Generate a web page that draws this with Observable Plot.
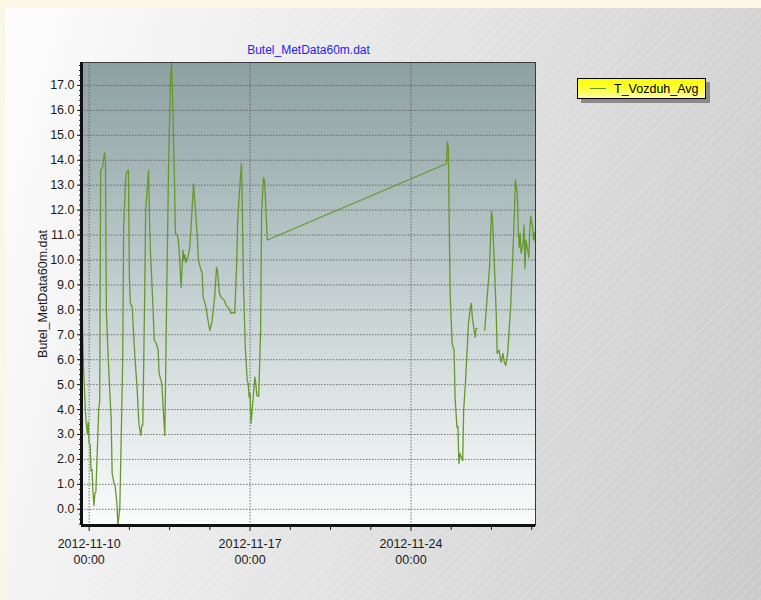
<!DOCTYPE html>
<html>
<head>
<meta charset="utf-8">
<script src="https://cdn.jsdelivr.net/npm/d3@7"></script>
<script src="https://cdn.jsdelivr.net/npm/@observablehq/plot@0.6"></script>
<style>
html, body { margin: 0; padding: 0; background: #FBF7E6; }
#page { position: relative; width: 761px; height: 600px; overflow: hidden; font-family: "Liberation Sans", Arial, sans-serif; }
#panel { position: absolute; left: 5px; top: 8px; right: 0; bottom: 0;
  background:
    repeating-linear-gradient(135deg, rgba(255,255,255,0) 0px, rgba(255,255,255,0) 5px, rgba(255,255,255,0.10) 5px, rgba(255,255,255,0.10) 7px),
    linear-gradient(105deg, #fdfdfd 0%, #eeeeee 30%, #dcdcdc 65%, #cbcbcb 100%); }
#chart { position: absolute; left: 0; top: 0; }
#legend { position: absolute; left: 577px; top: 78px; width: 129px; height: 21px; box-sizing: border-box;
  border: 1px solid #000; background: linear-gradient(180deg, #ffff00 0%, #ffff40 55%, #ffffa8 100%);
  box-shadow: 4px 4px 0 #8a8a8a; display: flex; align-items: center; font-size: 12.5px; color: #000; }
#legend .swatch { width: 16px; height: 0; border-top: 1px solid #65992e; margin-left: 12px; margin-right: 8px; }
</style>
</head>
<body>
<div id="page">
  <div id="panel"></div>
  <div id="chart"></div>
  <div id="legend"><span class="swatch"></span><span>T_Vozduh_Avg</span></div>
</div>
<script>
// ---- data ----
const chartTitle = "Butel_MetData60m.dat";
const axisLabel = "Butel_MetData60m.dat";
const seriesName = "T_Vozduh_Avg";
const startTime = "2012-11-10T00:00:00Z";   // hour offsets below are relative to this
const hoursSince = [
  -8,-6,-4,-3,-2,-1,0,1,2,3,
  4,5,6,7,10,11,12,14,15,16,
  17,18,20,23,24,26,27,29,30,32,
  33,35,36,38,39,41,42,43,45,46,
  48,50,51,52,54,55,56,57,58,59,
  61,62,63,64,66,68,70,72,73,75,
  76,77,79,81,83,85,86,87,89,90,
  92,93,94,96,97,98,99,100,101,103,
  105,106,108,109,111,113,114,116,118,119,
  120,122,124,126,128,131,133,134,136,138,
  139,141,143,145,147,148,150,152,154,155,
  157,159,160,161,163,165,166,167,168,169,
  171,173,174,175,177,179,180,182,183,184,
  186,373,374,375,376,377,379,381,382,384,
  385,386,387,389,390,391,393,396,398,399,
  400,403,404,405,409,413,415,418,420,421,
  423,425,426,428,429,430,432,433,434,435,
  437,438,440,442,444,445,447,448,449,450,
  451,453,454,455,456,457,459,460,461,463,
  464,465,466
];
const temps = [
  9.2,5.8,4.0,3.45,3.05,3.5,2.65,2.6,1.55,1.6,
  0.65,0.15,0.65,0.7,4.0,4.37,13.6,13.7,14.0,14.3,
  14.0,7.9,5.97,3.57,1.44,1.04,0.96,0.24,-0.65,0.08,
  1.96,5.97,11.3,13.2,13.5,13.6,9.3,8.26,8.1,7.3,
  5.97,4.9,4.1,3.4,2.97,3.37,3.37,6.0,8.66,12.0,
  13.07,13.6,11.6,10.3,8.66,6.78,6.66,6.4,5.45,5.17,
  4.97,4.25,2.97,8.66,14.0,17.3,17.92,16.7,13.3,11.07,
  11.0,10.8,10.4,8.9,9.7,10.4,10.0,10.2,9.9,10.1,
  10.5,11.07,12.4,13.05,12.0,10.9,10.0,9.7,9.46,8.5,
  8.4,8.1,7.6,7.18,7.46,8.5,9.7,9.58,8.66,8.5,
  8.46,8.38,8.18,8.1,7.98,7.86,7.9,7.86,9.86,11.47,
  12.8,13.87,11.87,9.18,6.5,5.17,5.05,4.5,4.65,3.45,
  4.37,5.3,5.05,4.57,4.53,7.18,11.87,13.3,13.2,12.5,
  10.8,13.86,14.73,14.5,11.2,8.5,6.65,6.38,4.5,3.3,
  3.33,1.84,2.24,2.04,1.96,3.97,5.17,7.46,8.1,8.26,
  7.7,6.9,7.26,7.26,null,7.18,8.26,9.7,11.95,11.7,
  9.86,7.86,6.25,6.38,6.1,5.9,6.25,5.97,5.85,5.77,
  6.25,6.9,8.1,9.86,11.87,13.2,12.67,11.2,10.5,11.07,
  10.27,10.67,11.4,9.66,10.8,10.6,10.1,11.2,11.75,11.3,
  10.8,11.1,10.7
];
const xDomainStr = ["2012-11-09T16:00:00Z", "2012-11-29T10:00:00Z"];
const yDomain = [-0.65, 17.92];
const yTicks = [0,1,2,3,4,5,6,7,8,9,10,11,12,13,14,15,16,17];
const xMajorTicks = ["2012-11-10T00:00:00Z", "2012-11-17T00:00:00Z", "2012-11-24T00:00:00Z"];
const xMinorTicks = ["2012-11-11T18:00:00Z","2012-11-13T12:00:00Z","2012-11-15T06:00:00Z",
                     "2012-11-18T18:00:00Z","2012-11-20T12:00:00Z","2012-11-22T06:00:00Z",
                     "2012-11-25T18:00:00Z","2012-11-27T12:00:00Z","2012-11-29T06:00:00Z"];

// ---- build table ----
const t0 = new Date(startTime).getTime();
const series = hoursSince.map((h, i) => ({ time: new Date(t0 + h * 3600e3), temp: temps[i] }));
const xDomain = xDomainStr.map(d => new Date(d));
const xMajor = xMajorTicks.map(d => new Date(d));
const xMinor = xMinorTicks.map(d => new Date(d));
const yMinor = d3.range(-0.6, 17.9, 0.2).map(v => Math.round(v * 10) / 10);
const fmtDate = d3.utcFormat("%Y-%m-%d");
const fmtTime = d3.utcFormat("%H:%M");
const lineColor = "#65992e";
const gridStyle = { stroke: "#5c5c5c", strokeDasharray: "1.5,1.5", strokeOpacity: 0.85 };

const svg = Plot.plot({
  width: 761, height: 600,
  marginLeft: 81, marginRight: 226, marginTop: 62, marginBottom: 75,
  style: { background: "transparent", fontFamily: '"Liberation Sans", Arial, sans-serif', fontSize: "12.5px", color: "#1a1a1a", overflow: "visible" },
  x: { type: "utc", domain: xDomain },
  y: { domain: yDomain },
  marks: [
    Plot.frame({ fill: "url(#plotBg)" }),
    Plot.ruleY(yTicks, gridStyle),
    Plot.ruleX(xMajor, gridStyle),
    Plot.line(series, { x: "time", y: "temp", stroke: lineColor, strokeWidth: 1.3 }),
    Plot.frame({ stroke: "#3a3a3a", strokeWidth: 1 }),
    Plot.ruleX([xDomain[0]], { stroke: "#111", strokeWidth: 3 }),
    Plot.ruleY([yDomain[0]], { stroke: "#111", strokeWidth: 3 }),
    Plot.axisY(yTicks, { tickSize: 4, tickPadding: 3, tickFormat: d => d.toFixed(1), label: null }),
    Plot.axisY(yMinor, { tickSize: 2, tickFormat: () => "", label: null }),
    Plot.axisX(xMajor, { tickSize: 6, tickPadding: 5, tickFormat: d => fmtDate(d) + "\n" + fmtTime(d), lineHeight: 1.3, label: null }),
    Plot.axisX(xMinor, { tickSize: 5, tickFormat: () => "", label: null }),
    Plot.text([axisLabel], { text: d => d, frameAnchor: "left", textAnchor: "middle", rotate: -90, dx: -39, fill: "#1a1a1a", fontSize: 12.5 }),
    Plot.text([chartTitle], { text: d => d, frameAnchor: "top", textAnchor: "middle", dy: -17, fill: "#2222ff", fontSize: 12 })
  ]
});

const defs = d3.select(svg).insert("defs", ":first-child");
const grad = defs.append("linearGradient").attr("id", "plotBg")
  .attr("x1", 0).attr("y1", 0).attr("x2", 0).attr("y2", 1);
grad.append("stop").attr("offset", "0%").attr("stop-color", "#8da0a2");
grad.append("stop").attr("offset", "50%").attr("stop-color", "#c4d0d1");
grad.append("stop").attr("offset", "100%").attr("stop-color", "#fbfcfc");

document.getElementById("chart").appendChild(svg);
</script>
</body>
</html>
